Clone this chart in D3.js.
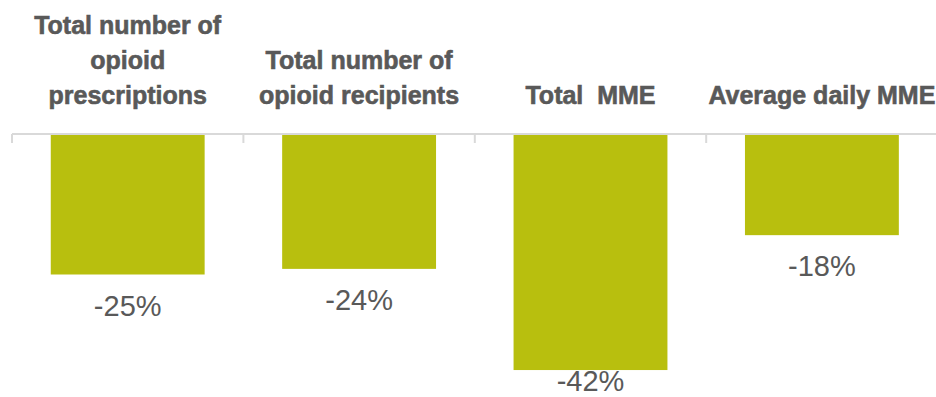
<!DOCTYPE html>
<html>
<head>
<meta charset="utf-8">
<script src="https://cdn.jsdelivr.net/npm/d3@7"></script>
<style>
    body { margin: 0; background: #fff; }
    #chart { width: 936px; height: 397px; }
</style>
</head>
<body>
<div id="chart"></div>
<script>
const categories = ['prescriptions', 'recipients', 'totalMme', 'dailyMme'];
const categoryLabels = [
    ['Total number of', 'opioid', 'prescriptions'],
    ['Total number of', 'opioid recipients'],
    ['Total  MME'],
    ['Average daily MME']
];
const changeValues = [-25, -24, -42, -18];
const valueLabels = ['-25%', '-24%', '-42%', '-18%'];

function drawChart() {
    const container = d3.select('#chart');
    container.html('');

    const width = 936;
    const height = 397;
    const baseY = 134;

    const svg = container.append('svg')
        .attr('width', width)
        .attr('height', height);

    const x = d3.scaleBand()
        .domain(categories)
        .range([12, 937.6])
        .paddingInner(0.335)
        .paddingOuter(0.1675);

    const y = d3.scaleLinear()
        .domain([0, -45])
        .range([baseY, baseY + 45 * 5.62]);

    // bars
    svg.selectAll('.bar')
        .data(categories)
        .enter()
        .append('rect')
        .attr('class', 'bar')
        .attr('x', d => x(d))
        .attr('y', y(0))
        .attr('width', x.bandwidth())
        .attr('height', (d, i) => y(changeValues[i]) - y(0))
        .attr('fill', '#b8bf0e');

    // category axis line with ticks at the band edges
    const step = x.step();
    const x0 = x.range()[0];
    svg.append('line')
        .attr('x1', x0)
        .attr('x2', width)
        .attr('y1', baseY)
        .attr('y2', baseY)
        .attr('stroke', '#d9d9d9')
        .attr('stroke-width', 2);

    svg.selectAll('.tick')
        .data(d3.range(categories.length))
        .enter()
        .append('line')
        .attr('class', 'tick')
        .attr('x1', i => x0 + i * step)
        .attr('x2', i => x0 + i * step)
        .attr('y1', baseY)
        .attr('y2', baseY + 9)
        .attr('stroke', '#d9d9d9')
        .attr('stroke-width', 2);

    // category labels, bottom-aligned above the axis
    const lineHeight = 35;
    categories.forEach((c, i) => {
        const lines = categoryLabels[i];
        const cx = x(c) + x.bandwidth() / 2;
        const text = svg.append('text')
            .attr('text-anchor', 'middle')
            .attr('fill', '#595959')
            .attr('stroke', '#595959')
            .attr('stroke-width', 0.6)
            .style('font-family', '"Liberation Sans Narrow", "Arial Narrow", sans-serif')
            .style('font-weight', 'bold')
            .style('font-size', '25px')
            .style('white-space', 'pre');
        lines.forEach((line, j) => {
            text.append('tspan')
                .attr('x', cx)
                .attr('y', 104 - (lines.length - 1 - j) * lineHeight)
                .text(line);
        });
    });

    // value labels under the bars (kept inside the frame at the bottom)
    svg.selectAll('.value')
        .data(categories)
        .enter()
        .append('text')
        .attr('class', 'value')
        .attr('text-anchor', 'middle')
        .attr('x', d => x(d) + x.bandwidth() / 2)
        .attr('y', (d, i) => Math.min(y(changeValues[i]) + 41, 391))
        .attr('fill', '#595959')
        .style('font-family', '"Liberation Sans", Arial, sans-serif')
        .style('font-size', '29px')
        .text((d, i) => valueLabels[i]);
}

drawChart();
</script>
</body>
</html>
